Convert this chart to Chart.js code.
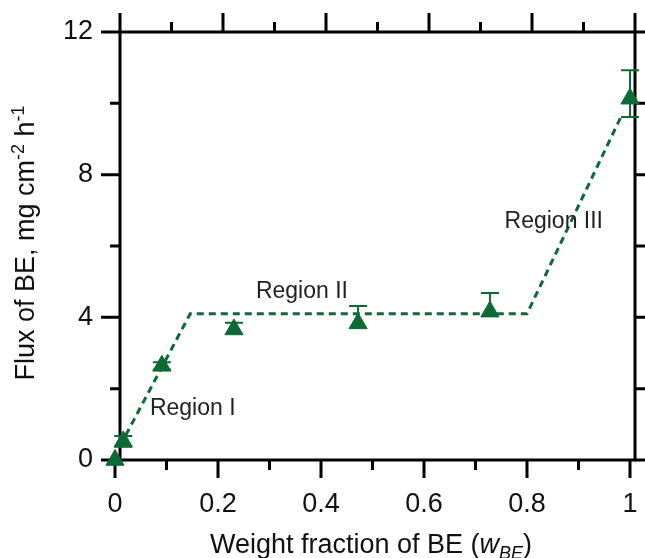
<!DOCTYPE html>
<html>
<head>
<meta charset="utf-8">
<script src="https://cdn.jsdelivr.net/npm/chart.js@4/dist/chart.umd.min.js"></script>
<style>
  html, body { margin: 0; padding: 0; background: #fff; }
  #wrap { width: 645px; height: 558px; }
</style>
</head>
<body>
<div id="wrap"><canvas id="fluxChart"></canvas></div>
<script>
// measured points (weight fraction of BE vs flux)
const weightFraction = [0, 0.016, 0.091, 0.231, 0.472, 0.728, 1.0];
const fluxValues = [0, 0.52, 2.64, 3.66, 3.83, 4.16, 10.13];
const fluxErrPlus = [0, 0.15, 0.1, 0.19, 0.49, 0.52, 0.8];
const fluxErrMinus = [0, 0.15, 0.1, 0, 0, 0, 0.51];

// dashed guide line through the three regions
const fitX = [0.01, 0.146, 0.8, 0.985];
const fitY = [0.4, 4.1, 4.1, 9.7];

const xTicks = [0, 0.2, 0.4, 0.6, 0.8, 1];
const xMinorTicks = [0.1, 0.3, 0.5, 0.7, 0.9];
const yTicks = [0, 4, 8, 12];
const yMinorTicks = [2, 6, 10];

const regionNames = ['Region I', 'Region II', 'Region III'];

const green = '#0d6a35';
const fontFam = "'Liberation Sans', Arial, sans-serif";

const framePlugin = {
    id: 'frame',
    beforeDatasetsDraw(chart) {
        const ctx = chart.ctx;
        const xs = chart.scales.x, ys = chart.scales.y;
        const a = chart.chartArea;
        const off = 5;
        ctx.save();
        ctx.strokeStyle = '#000';
        ctx.lineWidth = 3;
        ctx.lineCap = 'butt';
        ctx.strokeRect(a.left + off, a.top, a.right - a.left, a.bottom - a.top);
        ctx.beginPath();
        // bottom + top ticks
        xTicks.forEach(v => {
            const px = xs.getPixelForValue(v);
            ctx.moveTo(px, a.bottom); ctx.lineTo(px, a.bottom + 18);
            ctx.moveTo(px + off, a.top); ctx.lineTo(px + off, a.top - 19);
        });
        xMinorTicks.forEach(v => {
            const px = xs.getPixelForValue(v);
            ctx.moveTo(px, a.bottom); ctx.lineTo(px, a.bottom + 10);
            ctx.moveTo(px + off, a.top); ctx.lineTo(px + off, a.top - 10);
        });
        // left + right ticks
        yTicks.forEach(v => {
            const py = ys.getPixelForValue(v);
            ctx.moveTo(a.left + off, py); ctx.lineTo(a.left + off - 19, py);
            ctx.moveTo(a.right + off, py); ctx.lineTo(a.right + off + 18, py);
        });
        yMinorTicks.forEach(v => {
            const py = ys.getPixelForValue(v);
            ctx.moveTo(a.left + off, py); ctx.lineTo(a.left + off - 10, py);
            ctx.moveTo(a.right + off, py); ctx.lineTo(a.right + off + 10, py);
        });
        ctx.stroke();
        ctx.restore();
    },
    afterDatasetsDraw(chart) {
        // error bars
        const ctx = chart.ctx;
        const xs = chart.scales.x, ys = chart.scales.y;
        ctx.save();
        ctx.strokeStyle = green;
        ctx.lineWidth = 2;
        ctx.beginPath();
        weightFraction.forEach((w, i) => {
            const px = xs.getPixelForValue(w);
            const mid = ys.getPixelForValue(fluxValues[i]);
            if (fluxErrPlus[i]) {
                const top = ys.getPixelForValue(fluxValues[i] + fluxErrPlus[i]);
                ctx.moveTo(px, mid); ctx.lineTo(px, top);
                ctx.moveTo(px - 9, top); ctx.lineTo(px + 9, top);
            }
            if (fluxErrMinus[i]) {
                const bot = ys.getPixelForValue(fluxValues[i] - fluxErrMinus[i]);
                ctx.moveTo(px, mid); ctx.lineTo(px, bot);
                ctx.moveTo(px - 9, bot); ctx.lineTo(px + 9, bot);
            }
        });
        ctx.stroke();
        ctx.restore();
    },
    afterDraw(chart) {
        const ctx = chart.ctx;
        const xs = chart.scales.x, ys = chart.scales.y;
        ctx.save();
        // region labels
        ctx.fillStyle = '#222';
        ctx.font = '23px ' + fontFam;
        ctx.textAlign = 'center';
        ctx.textBaseline = 'middle';
        const rx = [0.151, 0.363, 0.852];
        const ry = [1.43, 4.71, 6.67];
        regionNames.forEach((t, i) => {
            ctx.fillText(t, xs.getPixelForValue(rx[i]), ys.getPixelForValue(ry[i]));
        });

        // x title with italic subscript
        ctx.fillStyle = '#111';
        ctx.textAlign = 'left';
        ctx.textBaseline = 'alphabetic';
        const main = '27px ' + fontFam, ital = 'italic 27px ' + fontFam, sub = 'italic 18px ' + fontFam;
        const parts = [
            ['Weight fraction of BE (', main, 0],
            ['w', ital, 0],
            ['BE', sub, 6],
            [')', main, 0]
        ];
        let total = 0;
        parts.forEach(p => { ctx.font = p[1]; total += ctx.measureText(p[0]).width; });
        let x = 371 - total / 2;
        parts.forEach(p => {
            ctx.font = p[1];
            ctx.fillText(p[0], x, 553 + p[2]);
            x += ctx.measureText(p[0]).width;
        });

        // y title with superscripts
        ctx.translate(34, 243);
        ctx.rotate(-Math.PI / 2);
        const sup = '18px ' + fontFam;
        const yparts = [
            ['Flux of BE, mg cm', main, 0],
            ['-2', sup, -10],
            [' h', main, 0],
            ['-1', sup, -10]
        ];
        total = 0;
        yparts.forEach(p => { ctx.font = p[1]; total += ctx.measureText(p[0]).width; });
        x = -total / 2;
        yparts.forEach(p => {
            ctx.font = p[1];
            ctx.fillText(p[0], x, p[2]);
            x += ctx.measureText(p[0]).width;
        });
        ctx.restore();
    }
};

function noScalePadding(s) {
    s.paddingLeft = 0;
    s.paddingRight = 0;
    s.paddingTop = 0;
    s.paddingBottom = 0;
}

const ctx = document.getElementById('fluxChart').getContext('2d');
const fluxChart = new Chart(ctx, {
    type: 'scatter',
    data: {
        datasets: [{
            label: 'Flux',
            data: weightFraction.map((w, i) => ({ x: w, y: fluxValues[i] })),
            pointStyle: 'triangle',
            pointRadius: 10.5,
            backgroundColor: green,
            borderColor: green,
            borderWidth: 1,
            clip: false,
            order: 0
        }, {
            label: 'Guide',
            data: fitX.map((v, i) => ({ x: v, y: fitY[i] })),
            showLine: true,
            borderColor: green,
            borderWidth: 3,
            borderDash: [7, 5],
            pointRadius: 0,
            fill: false,
            clip: false,
            order: 1
        }]
    },
    options: {
        responsive: true,
        maintainAspectRatio: false,
        animation: false,
        layout: { autoPadding: false, padding: { top: 32, right: 15, left: 0, bottom: 0 } },
        plugins: { legend: { display: false }, tooltip: { enabled: false } },
        scales: {
            x: {
                type: 'linear',
                min: 0,
                max: 1,
                afterFit: s => { s.height = 98; noScalePadding(s); },
                afterBuildTicks: s => { s.ticks = xTicks.map(v => ({ value: v })); },
                grid: { display: false, drawTicks: false, tickLength: 0 },
                border: { display: false },
                ticks: {
                    padding: 28,
                    color: '#111',
                    font: { family: fontFam, size: 27 },
                    maxRotation: 0,
                    callback: v => String(v)
                }
            },
            y: {
                type: 'linear',
                min: 0,
                max: 12,
                afterFit: s => { s.width = 115; noScalePadding(s); },
                afterBuildTicks: s => { s.ticks = yTicks.map(v => ({ value: v })); },
                grid: { display: false, drawTicks: false, tickLength: 0 },
                border: { display: false },
                ticks: {
                    padding: 22,
                    color: '#111',
                    font: { family: fontFam, size: 27 },
                    callback: v => String(v)
                }
            }
        }
    },
    plugins: [framePlugin]
});
</script>
</body>
</html>
